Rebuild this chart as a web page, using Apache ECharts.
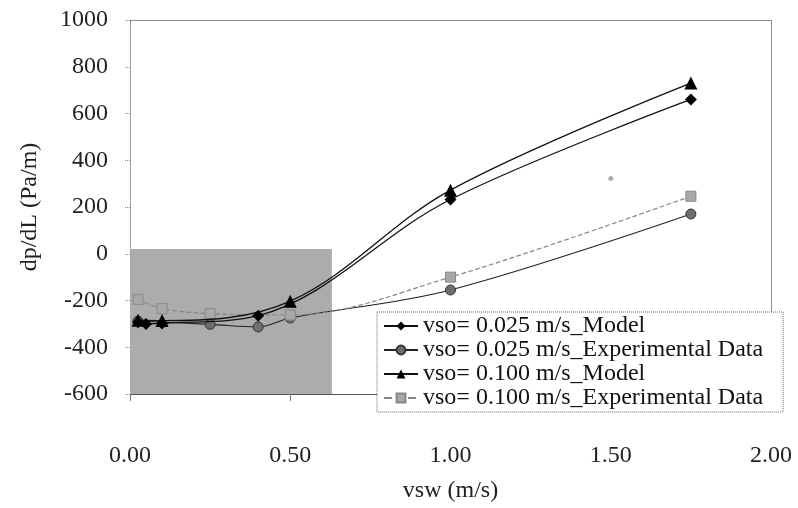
<!DOCTYPE html>
<html>
<head>
<meta charset="utf-8">
<script src="https://cdn.jsdelivr.net/npm/echarts@6/dist/echarts.min.js"></script>
<style>
  html, body { margin: 0; padding: 0; background: #fff; }
  #main { width: 798px; height: 508px; }
</style>
</head>
<body>
<div id="main"></div>
<script>
// legend names
var seriesNames = [
  'vso= 0.025 m/s_Model',
  'vso= 0.025 m/s_Experimental Data',
  'vso= 0.100 m/s_Model',
  'vso= 0.100 m/s_Experimental Data'
];
// [vsw, dp/dL]
var model025 = [[0.025, -293], [0.05, -300], [0.1, -298], [0.4, -265], [1.0, 232], [1.75, 660]];
var exp025 = [[0.025, -288], [0.25, -302], [0.4, -313], [0.5, -275], [1.0, -155], [1.75, 170]];
var model100 = [[0.025, -284], [0.1, -286], [0.5, -203], [1.0, 272], [1.75, 730]];
var exp100 = [[0.025, -195], [0.1, -235], [0.25, -256], [0.5, -262], [1.0, -100], [1.75, 246]];
var strayPoint = [[1.5, 322]];
// shaded box in the lower left
var shadeBox = [[0, -600], [0.63, 20]];
var yTicks = [-600, -400, -200, 0, 200, 400, 600, 800, 1000];
var xTicks = [0, 0.5, 1.0, 1.5, 2.0];

var serif = '"Liberation Serif", "DejaVu Serif", serif';
var chart = echarts.init(document.getElementById('main'), null, { renderer: 'canvas' });

var option = {
  backgroundColor: '#fff',
  animation: false,
  grid: { left: 130, right: 27, top: 20, bottom: 108 },
  legend: {
    orient: 'vertical',
    left: 377,
    top: 312,
    data: seriesNames,
    backgroundColor: '#fff',
    borderColor: '#666',
    borderWidth: 1,
    borderType: 'dotted',
    padding: [2, 20, 2, 6],
    itemGap: 0,
    itemWidth: 34,
    itemHeight: 11,
    textStyle: { fontFamily: serif, fontSize: 24, color: '#111', lineHeight: 22 },
    z: 10
  },
  xAxis: [{
    type: 'value',
    min: xTicks[0],
    max: xTicks[xTicks.length - 1],
    interval: 0.5,
    name: 'vsw (m/s)',
    nameLocation: 'middle',
    nameGap: 85,
    nameTextStyle: { fontFamily: serif, fontSize: 24, color: '#222' },
    axisLine: { show: true, onZero: false, lineStyle: { color: '#555', width: 1 } },
    axisTick: { show: true, length: 7, lineStyle: { color: '#777' } },
    axisLabel: {
      margin: 50,
      fontFamily: serif, fontSize: 24, color: '#222',
      formatter: function (v) { return v.toFixed(2); }
    },
    splitLine: { show: false }
  }, {
    type: 'value', position: 'top', min: 0, max: 2,
    axisLine: { show: true, onZero: false, lineStyle: { color: '#777', type: 'dotted' } },
    axisTick: { show: false }, axisLabel: { show: false }, splitLine: { show: false }
  }],
  yAxis: [{
    type: 'value',
    min: yTicks[0],
    max: yTicks[yTicks.length - 1],
    interval: 200,
    name: 'dp/dL (Pa/m)',
    nameLocation: 'middle',
    nameGap: 88,
    nameTextStyle: { fontFamily: serif, fontSize: 24, color: '#222' },
    axisLine: { show: true, onZero: false, lineStyle: { color: '#888', width: 1, type: 'dotted' } },
    axisTick: { show: true, length: 5, lineStyle: { color: '#888', type: 'dotted' } },
    axisLabel: {
      margin: 22, fontFamily: serif, fontSize: 24, color: '#222',
      formatter: function (v) { return String(v); }
    },
    splitLine: { show: false }
  }, {
    type: 'value', position: 'right', min: -600, max: 1000,
    axisLine: { show: true, onZero: false, lineStyle: { color: '#777', type: 'dotted' } },
    axisTick: { show: false }, axisLabel: { show: false }, splitLine: { show: false }
  }],
  series: [
    {
      name: 'shade',
      type: 'line',
      data: [],
      z: 1,
      markArea: {
        silent: true,
        itemStyle: { color: '#acacac' },
        data: [[{ coord: shadeBox[0] }, { coord: shadeBox[1] }]]
      }
    },
    {
      name: seriesNames[0],
      type: 'line',
      smooth: 0.35,
      data: model025,
      symbol: 'diamond',
      symbolSize: 12,
      itemStyle: { color: '#000' },
      lineStyle: { color: '#111', width: 1.3 },
      z: 4
    },
    {
      name: seriesNames[1],
      type: 'line',
      smooth: 0.35,
      data: exp025,
      symbol: 'circle',
      symbolSize: 10,
      itemStyle: { color: '#6e6e6e', borderColor: '#333', borderWidth: 1 },
      lineStyle: { color: '#222', width: 1.1 },
      z: 3
    },
    {
      name: seriesNames[2],
      type: 'line',
      smooth: 0.35,
      data: model100,
      symbol: 'triangle',
      symbolSize: 13,
      itemStyle: { color: '#000' },
      lineStyle: { color: '#111', width: 1.3 },
      z: 4
    },
    {
      name: seriesNames[3],
      type: 'line',
      smooth: 0.35,
      data: exp100,
      symbol: 'rect',
      symbolSize: 10,
      itemStyle: { color: '#a8a8a8', borderColor: '#888', borderWidth: 1 },
      lineStyle: { color: '#888', width: 1.2, type: 'dashed' },
      z: 3
    },
    {
      name: 'stray',
      type: 'scatter',
      data: strayPoint,
      symbol: 'circle',
      symbolSize: 5,
      itemStyle: { color: '#999' },
      z: 3
    }
  ]
};

chart.setOption(option);
</script>
</body>
</html>
